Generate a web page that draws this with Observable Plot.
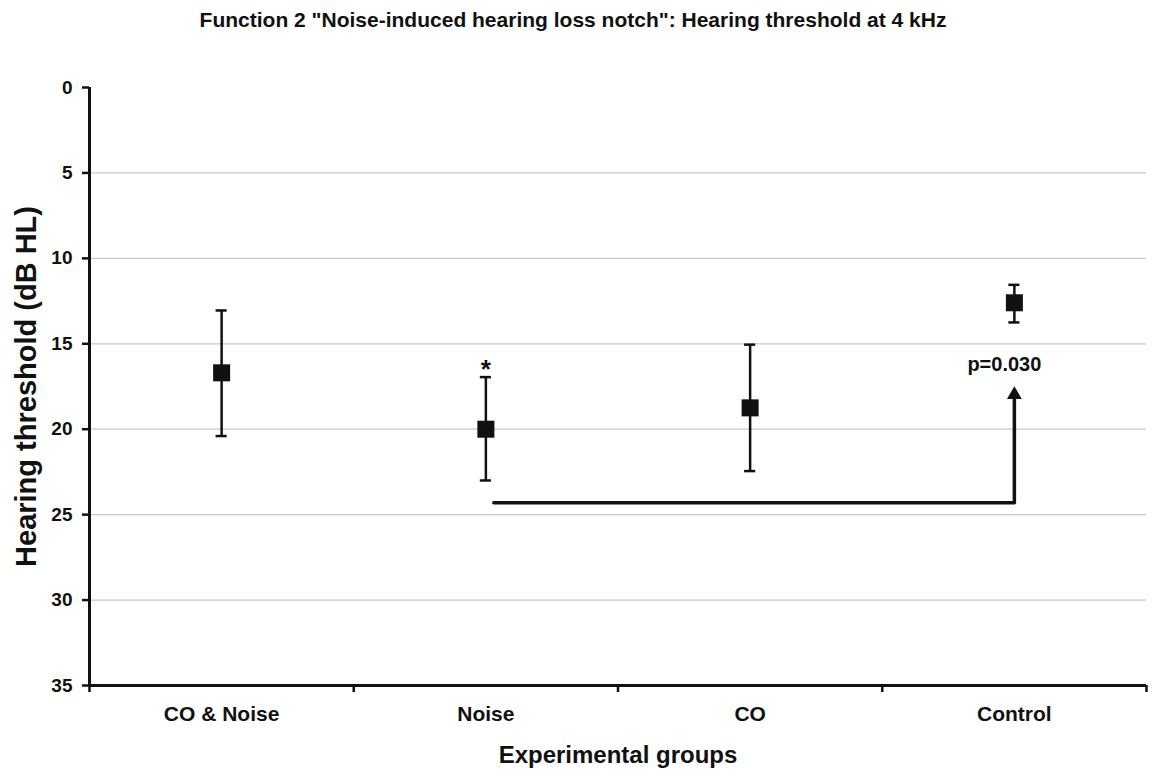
<!DOCTYPE html>
<html>
<head>
<meta charset="utf-8">
<script src="https://cdn.jsdelivr.net/npm/d3@7"></script>
<script src="https://cdn.jsdelivr.net/npm/@observablehq/plot@0.6"></script>
<style>
  html, body { margin: 0; padding: 0; background: #fff; }
  svg { font-family: "Liberation Sans", Arial, sans-serif; }
</style>
</head>
<body>
<div id="chart"></div>
<script>
const categories = ["CO & Noise", "Noise", "CO", "Control"];
const means = [16.7, 20.0, 18.75, 12.6];
const lower = [13.05, 16.95, 15.05, 11.55];
const upper = [20.4, 23.0, 22.45, 13.75];
const yTicks = [0, 5, 10, 15, 20, 25, 30, 35];
const gridValues = [5, 10, 15, 20, 25, 30];
const title = "Function 2 \"Noise-induced hearing loss notch\": Hearing threshold at 4 kHz";
const yLabel = "Hearing threshold (dB HL)";
const xLabel = "Experimental groups";
const significance = { from: "Noise", to: "Control", level: 24.3, top: 18.1, label: "p=0.030", labelY: 16.2, starY: 16.5 };

const idx = c => categories.indexOf(c) + 0.5;
const data = categories.map((c, i) => ({ cat: c, x: i + 0.5, mean: means[i], lo: lower[i], hi: upper[i] }));
const capHalf = 0.021;
const bracket = [
  { x: idx(significance.from) + 0.03, y: significance.level },
  { x: idx(significance.to), y: significance.level },
  { x: idx(significance.to), y: significance.top }
];

const chart = Plot.plot({
  width: 1152,
  height: 773,
  marginLeft: 89,
  marginRight: 6,
  marginTop: 87,
  marginBottom: 88,
  style: { fontFamily: "'Liberation Sans', Arial, sans-serif", color: "#111" },
  x: { domain: [0, 4] },
  y: { domain: [0, 35], reverse: true },
  marks: [
    Plot.ruleY(gridValues, { stroke: "#c8c8c8", strokeWidth: 1.3 }),
    Plot.axisY({ ticks: yTicks, tickSize: 7, tickPadding: 10, tickFormat: d => String(d), fontSize: 19, fontWeight: "bold", label: null, strokeWidth: 2.5 }),
    Plot.axisX({ ticks: [0, 1, 2, 3, 4], tickSize: 7, tickFormat: () => "", label: null, strokeWidth: 2.5 }),
    Plot.axisX({ ticks: data.map(d => d.x), tickSize: 0, tickPadding: 21, tickFormat: d => categories[Math.round(d - 0.5)], fontSize: 21, fontWeight: "bold", label: null }),
    Plot.ruleX([0], { stroke: "#111", strokeWidth: 3 }),
    Plot.ruleY([35], { stroke: "#111", strokeWidth: 3 }),
    Plot.ruleX(data, { x: "x", y1: "lo", y2: "hi", stroke: "#111", strokeWidth: 2.5 }),
    Plot.ruleY(data, { y: "lo", x1: d => d.x - capHalf, x2: d => d.x + capHalf, stroke: "#111", strokeWidth: 2.5 }),
    Plot.ruleY(data, { y: "hi", x1: d => d.x - capHalf, x2: d => d.x + capHalf, stroke: "#111", strokeWidth: 2.5 }),
    Plot.dot(data, { x: "x", y: "mean", symbol: "square", r: 9.6, fill: "#111", stroke: "none" }),
    Plot.line(bracket, { x: "x", y: "y", stroke: "#111", strokeWidth: 3.5 }),
    Plot.dot([bracket[2]], { x: "x", y: "y", symbol: "triangle", r: 5.5, fill: "#111", stroke: "none", dy: -2 }),
    Plot.text([significance], { x: idx(significance.to), y: "labelY", text: "label", dx: -10, fontSize: 20, fontWeight: "bold", fill: "#111" }),
    Plot.text([significance], { x: idx(significance.from), y: "starY", text: () => "*", fontSize: 26, fontWeight: "bold", fill: "#111" }),
    Plot.text([title], { frameAnchor: "top", lineAnchor: "middle", textAnchor: "middle", dx: -45, dy: -67, fontSize: 21, fontWeight: "bold", fill: "#111" }),
    Plot.text([xLabel], { frameAnchor: "bottom", lineAnchor: "middle", textAnchor: "middle", dy: 70, fontSize: 24, fontWeight: "bold", fill: "#111" }),
    Plot.text([yLabel], { frameAnchor: "left", lineAnchor: "middle", textAnchor: "middle", dx: -63, rotate: -90, fontSize: 29, fontWeight: "bold", fill: "#111" })
  ]
});
document.getElementById("chart").appendChild(chart);
</script>
</body>
</html>
